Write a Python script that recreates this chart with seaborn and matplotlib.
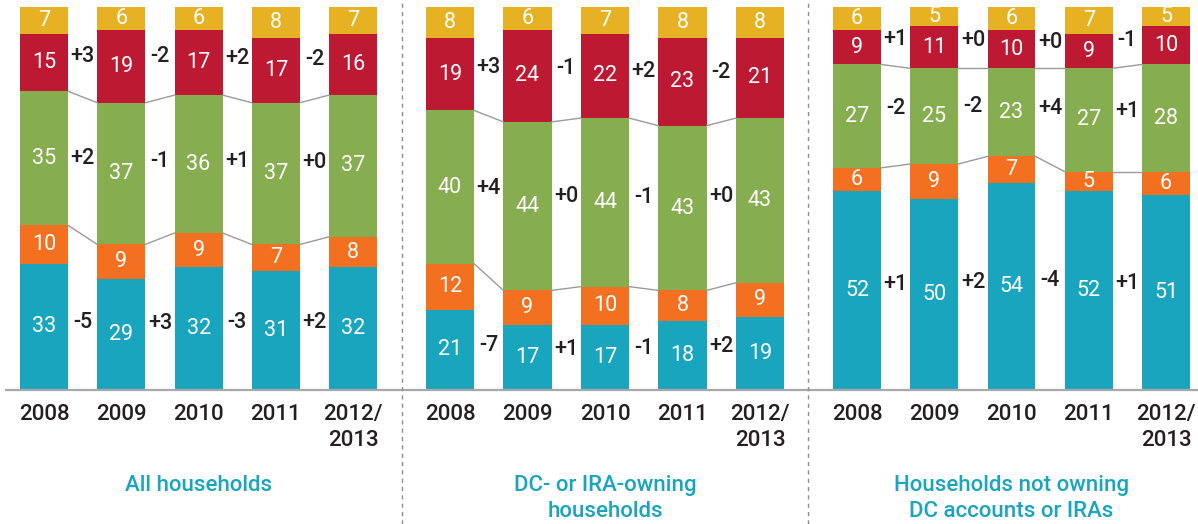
import numpy as np
import matplotlib
matplotlib.use("Agg")
import matplotlib.pyplot as plt
from matplotlib.lines import Line2D
import seaborn as sns

# anos (eixo x)
years = ["2008", "2009", "2010", "2011", "2012/\n2013"]

# segmentos de baixo para cima: teal, laranja, verde, vermelho, amarelo
all_households = [
    [33, 29, 32, 31, 32],
    [10, 9, 9, 7, 8],
    [35, 37, 36, 37, 37],
    [15, 19, 17, 17, 16],
    [7, 6, 6, 8, 7],
]
dc_ira_owning = [
    [21, 17, 17, 18, 19],
    [12, 9, 10, 8, 9],
    [40, 44, 44, 43, 43],
    [19, 24, 22, 23, 21],
    [8, 6, 7, 8, 8],
]
not_owning = [
    [52, 50, 54, 52, 51],
    [6, 9, 7, 5, 6],
    [27, 25, 23, 27, 28],
    [9, 11, 10, 9, 10],
    [6, 5, 6, 7, 5],
]

# variações entre anos (teal, verde, vermelho)
all_diffs_teal = [-5, 3, -3, 2]
all_diffs_green = [2, -1, 1, 0]
all_diffs_red = [3, -2, 2, -2]
dc_diffs_teal = [-7, 1, -1, 2]
dc_diffs_green = [4, 0, -1, 0]
dc_diffs_red = [3, -1, 2, -2]
not_diffs_teal = [1, 2, -4, 1]
not_diffs_green = [-2, -2, 4, 1]
not_diffs_red = [1, 0, 0, -1]

panel_titles = ["All households", "DC- or IRA-owning\nhouseholds",
                "Households not owning\nDC accounts or IRAs"]

cores = ["#1aa5bf", "#f37021", "#86ad4f", "#be1932", "#e6b223"]
texto = "#231f20"
W, H = 1198, 524
largura = 0.62

sns.set_style("white")
plt.rcParams["font.family"] = ["Roboto", "DejaVu Sans"]

fig = plt.figure(figsize=(W / 100, H / 100), dpi=100)

# posições dos painéis em pixels: (esquerda, direita, centro da 1a barra, espaçamento)
paineis = [(6, 402, 44, 77.3), (402, 808, 450, 77.5), (808, 1198, 857, 77.25)]
dados = [all_households, dc_ira_owning, not_owning]
diffs = [
    (all_diffs_teal, all_diffs_green, all_diffs_red),
    (dc_diffs_teal, dc_diffs_green, dc_diffs_red),
    (not_diffs_teal, not_diffs_green, not_diffs_red),
]

base_px, topo_px = 390, 7
for k, (esq, dir_, c0, passo) in enumerate(paineis):
    ax = fig.add_axes([esq / W, 1 - base_px / H, (dir_ - esq) / W, (base_px - topo_px) / H])
    segs = np.array(dados[k])
    cum = np.cumsum(segs, axis=0)
    # desenhar do maior acumulado para o menor (empilhado)
    for j in range(4, -1, -1):
        sns.barplot(x=years, y=cum[j], color=cores[j], width=largura,
                    saturation=1, ax=ax, linewidth=0)
    # valores dentro das barras
    for j in range(5):
        for i in range(5):
            base = cum[j][i] - segs[j][i]
            ax.text(i, base + segs[j][i] / 2, str(segs[j][i]), ha="center", va="center",
                    color="white", fontsize=15.5)
    # linhas conectando topo do laranja e topo do verde
    for j in (1, 2):
        for i in range(4):
            ax.plot([i + largura / 2, i + 1 - largura / 2], [cum[j][i], cum[j][i + 1]],
                    color="#9a9a9a", lw=1, zorder=1)
    # variações entre barras
    for j, lista in zip((0, 2, 3), diffs[k]):
        for i, d in enumerate(lista):
            c_a = cum[j][i] - segs[j][i] / 2
            c_b = cum[j][i + 1] - segs[j][i + 1] / 2
            ax.text(i + 0.5, (c_a + c_b) / 2 + 2, f"{d:+d}", ha="center", va="center",
                    color=texto, fontsize=15.5, fontweight="medium")
    ax.set_xlim((esq - c0) / passo, (dir_ - c0) / passo)
    ax.set_ylim(0, 100)
    ax.set_yticks([])
    ax.set_ylabel("")
    for s in ("left", "top", "right"):
        ax.spines[s].set_visible(False)
    ax.spines["bottom"].set_color("#a8a8a8")
    ax.spines["bottom"].set_linewidth(1.6)
    ax.tick_params(axis="x", length=0, pad=10, labelsize=16, labelcolor=texto)
    for lbl in ax.get_xticklabels():
        lbl.set_fontweight("medium")
        lbl.set_linespacing(1.3)
    ax.patch.set_alpha(0)
    # título do painel
    cx = c0 + 2 * passo
    fig.text(cx / W, 1 - 475 / H, panel_titles[k], ha="center", va="top",
             color="#1aa5bf", fontsize=16, fontweight="medium", linespacing=1.3)

# separadores tracejados
for xs in (402, 808):
    fig.add_artist(Line2D([xs / W, xs / W], [0, 1], color="#8c8c8c", lw=1,
                          linestyle=(0, (3, 3)), transform=fig.transFigure))

plt.savefig("out.png", dpi=100)
